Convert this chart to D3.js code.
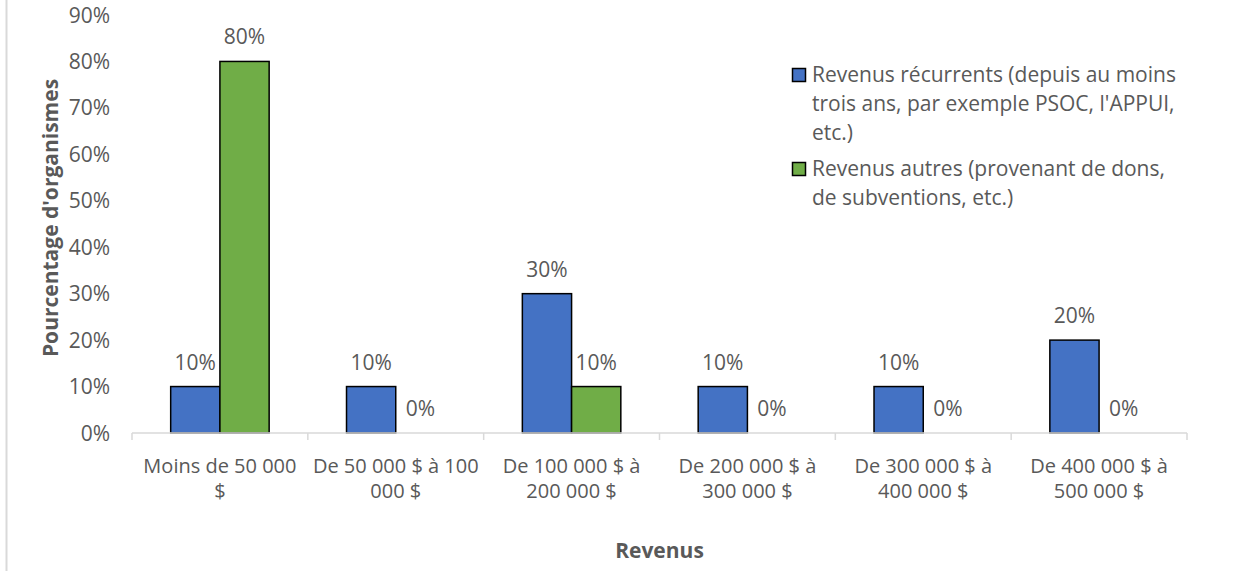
<!DOCTYPE html>
<html>
<head>
<meta charset="utf-8">
<script src="https://cdn.jsdelivr.net/npm/d3@7"></script>
<style>
  body { margin: 0; background: #fff; }
  svg { font-family: "Open Sans", sans-serif; }
</style>
</head>
<body>
<svg id="chart" width="1251" height="571"></svg>
<script>
const categories = [
    "Moins de 50 000 $",
    "De 50 000 $ à 100 000 $",
    "De 100 000 $ à 200 000 $",
    "De 200 000 $ à 300 000 $",
    "De 300 000 $ à 400 000 $",
    "De 400 000 $ à 500 000 $"
];

// how the category labels wrap in the picture
const categoryLines = [
    ["Moins de 50 000", "$"],
    ["De 50 000 $ à 100", "000 $"],
    ["De 100 000 $ à", "200 000 $"],
    ["De 200 000 $ à", "300 000 $"],
    ["De 300 000 $ à", "400 000 $"],
    ["De 400 000 $ à", "500 000 $"]
];

const recurrents = [0.10, 0.10, 0.30, 0.10, 0.10, 0.20];
const autres = [0.80, 0.00, 0.10, 0.00, 0.00, 0.00];

const seriesNames = [
    ["Revenus récurrents (depuis au moins", "trois ans, par exemple PSOC, l'APPUI,", "etc.)"],
    ["Revenus autres (provenant de dons,", "de subventions, etc.)"]
];

const yTicks = [0, 0.1, 0.2, 0.3, 0.4, 0.5, 0.6, 0.7, 0.8, 0.9];

const colors = ["#4472C4", "#70AD47"];
const textColor = "#595959";
const fontSize = "21px";

let svg = d3.select("#chart"),
    margin = {top: 15, right: 64, bottom: 138, left: 132},
    width = +svg.attr("width") - margin.left - margin.right,
    height = +svg.attr("height") - margin.top - margin.bottom;

// thin frame line on the left edge
svg.append("line")
    .attr("x1", 6.5).attr("x2", 6.5)
    .attr("y1", 0).attr("y2", 571)
    .attr("stroke", "#d9d9d9")
    .attr("stroke-width", 2);

let g = svg.append("g").attr("transform", "translate(" + margin.left + "," + margin.top + ")");

let x = d3.scaleBand()
    .domain(categories)
    .range([0, width])
    .paddingInner(0)
    .paddingOuter(0);

let x1 = d3.scaleBand()
    .domain([0, 1])
    .range([x.bandwidth() * 0.22, x.bandwidth() * 0.78]);

let y = d3.scaleLinear()
    .domain([0, 0.9])
    .range([height, 0]);

// y tick labels, no axis line
g.selectAll(".ytick")
    .data(yTicks)
    .enter().append("text")
    .attr("class", "ytick")
    .attr("x", -22)
    .attr("y", d => y(d))
    .attr("dy", "0.36em")
    .attr("text-anchor", "end")
    .attr("fill", textColor)
    .style("font-size", fontSize)
    .text(d => d3.format(".0%")(d));

let rows = categories.map((c, i) => ({cat: c, values: [recurrents[i], autres[i]]}));

let group = g.selectAll(".cat")
    .data(rows)
    .enter().append("g")
    .attr("class", "cat")
    .attr("transform", d => "translate(" + x(d.cat) + ",0)");

let bar = group.selectAll(".bar")
    .data(d => d.values.map((v, k) => ({k: k, v: v})))
    .enter();

bar.filter(d => d.v > 0).append("rect")
    .attr("x", d => x1(d.k))
    .attr("width", x1.bandwidth())
    .attr("y", d => y(d.v))
    .attr("height", d => y(0) - y(d.v))
    .attr("fill", d => colors[d.k])
    .attr("stroke", "#000")
    .attr("stroke-width", 1.5);

bar.append("text")
    .attr("x", d => x1(d.k) + x1.bandwidth() / 2)
    .attr("y", d => y(d.v) - 17)
    .attr("text-anchor", "middle")
    .attr("fill", textColor)
    .style("font-size", fontSize)
    .text(d => d3.format(".0%")(d.v));

// x axis
let xAxis = g.append("g")
    .attr("transform", "translate(0," + height + ")");

xAxis.append("line")
    .attr("x1", 0).attr("x2", width)
    .attr("stroke", "#d9d9d9")
    .attr("stroke-width", 1.5);

let tickPos = categories.map(c => x(c)).concat([width]);
xAxis.selectAll(".xt")
    .data(tickPos)
    .enter().append("line")
    .attr("x1", d => d).attr("x2", d => d)
    .attr("y1", 0).attr("y2", 7)
    .attr("stroke", "#d9d9d9")
    .attr("stroke-width", 1.5);

let xLabels = xAxis.selectAll(".xl")
    .data(categories)
    .enter().append("text")
    .attr("class", "xl")
    .attr("text-anchor", "middle")
    .attr("fill", textColor)
    .style("font-size", "20px")
    .attr("transform", d => "translate(" + (x(d) + x.bandwidth() / 2) + ",40)");

xLabels.selectAll("tspan")
    .data((d, i) => categoryLines[i])
    .enter().append("tspan")
    .attr("x", 0)
    .attr("dy", (d, i) => i === 0 ? 0 : 25)
    .text(d => d);

// axis titles
svg.append("text")
    .attr("x", margin.left + width / 2)
    .attr("y", 558)
    .attr("text-anchor", "middle")
    .attr("fill", textColor)
    .style("font-size", fontSize)
    .style("font-weight", "bold")
    .text("Revenus");

svg.append("text")
    .attr("transform", "translate(58,218) rotate(-90)")
    .attr("text-anchor", "middle")
    .attr("fill", textColor)
    .style("font-size", fontSize)
    .style("font-weight", "bold")
    .text("Pourcentage d'organismes");

// legend
let legend = svg.append("g").attr("transform", "translate(792,68)");
let legendTop = [0, 94];

seriesNames.forEach((lines, k) => {
    let item = legend.append("g").attr("transform", "translate(0," + legendTop[k] + ")");
    item.append("rect")
        .attr("x", 0.5).attr("y", 0.5)
        .attr("width", 13).attr("height", 13)
        .attr("fill", colors[k])
        .attr("stroke", "#000")
        .attr("stroke-width", 1.5);
    item.append("text")
        .attr("fill", textColor)
        .style("font-size", fontSize)
        .selectAll("tspan")
        .data(lines)
        .enter().append("tspan")
        .attr("x", 20)
        .attr("y", (d, i) => 14 + i * 29)
        .text(d => d);
});
</script>
</body>
</html>
